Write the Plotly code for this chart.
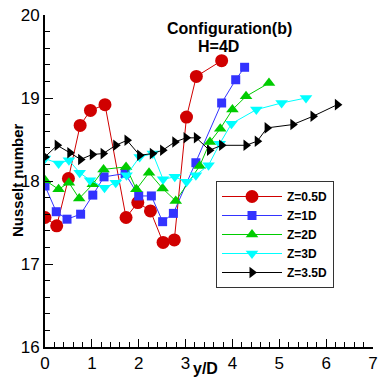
import plotly.graph_objects as go

# ---- data ----
red_x = [0, 0.25, 0.5, 0.75, 0.97, 1.28, 1.73, 1.98, 2.25, 2.52, 2.76, 3.02, 3.23, 3.77]
red_y = [17.56, 17.46, 18.03, 18.67, 18.85, 18.92, 17.56, 17.74, 17.64, 17.26, 17.29, 18.77, 19.26, 19.45]

blue_x = [0, 0.24, 0.47, 0.76, 1.02, 1.26, 1.71, 2.0, 2.27, 2.51, 2.74, 3.22, 3.77, 4.07, 4.26]
blue_y = [17.94, 17.63, 17.54, 17.60, 17.83, 18.05, 18.09, 17.82, 17.82, 17.51, 17.61, 18.22, 18.94, 19.22, 19.37]

green_x = [0, 0.29, 0.51, 0.73, 1.02, 1.25, 1.73, 1.95, 2.22, 2.51, 2.79, 3.30, 3.52, 3.74, 4.0, 4.29, 4.78]
green_y = [18.01, 17.90, 17.98, 17.79, 17.96, 18.14, 18.17, 17.90, 18.10, 17.91, 17.76, 18.18, 18.47, 18.63, 18.86, 19.02, 19.18]

cyan_x = [0, 0.29, 0.51, 0.74, 0.96, 1.27, 1.51, 1.74, 2.02, 2.30, 2.52, 2.77, 3.02, 3.22, 3.49, 3.73, 3.98, 4.51, 5.05, 5.57]
cyan_y = [18.27, 18.21, 18.25, 18.10, 18.01, 17.92, 17.98, 18.07, 18.29, 18.33, 18.02, 18.05, 17.99, 18.07, 18.19, 18.45, 18.69, 18.86, 18.94, 19.00]

black_x = [0, 0.26, 0.53, 0.76, 1.01, 1.24, 1.51, 1.75, 2.02, 2.29, 2.51, 2.77, 3.01, 3.23, 3.51, 3.77, 4.29, 4.53, 4.74, 5.29, 5.72, 6.24]
black_y = [18.29, 18.43, 18.34, 18.26, 18.32, 18.33, 18.43, 18.49, 18.31, 18.33, 18.37, 18.47, 18.52, 18.52, 18.37, 18.43, 18.43, 18.48, 18.64, 18.68, 18.78, 18.92]

series_names = ["Z=0.5D", "Z=1D", "Z=2D", "Z=3D", "Z=3.5D"]
x_range = [0, 7]
y_range = [16, 20]

title_line1 = "Configuration(b)"
title_line2 = "H=4D"
x_title = "y/D"
y_title = "Nusselt number"

FONT = "Liberation Sans, Arial, sans-serif"

# plot area in pixels: left 45, right 373, top 15, bottom 347
PL, PR, PT, PB = 45, 373, 15, 347
W, H = 383, 378


def px_x(px):
    return (px - PL) / (PR - PL)


def px_y(py):
    return (PB - py) / (PB - PT)


styles = [
    dict(color="#d00000", symbol="circle", size=13),
    dict(color="#3333ff", symbol="square", size=9),
    dict(color="#00cc00", symbol="triangle-up", size=11),
    dict(color="#00ffff", symbol="triangle-down", size=11),
    dict(color="#000000", symbol="triangle-right", size=10),
]

data = [(red_x, red_y), (blue_x, blue_y), (green_x, green_y), (cyan_x, cyan_y), (black_x, black_y)]

fig = go.Figure()
for (xs, ys), name, st in zip(data, series_names, styles):
    fig.add_trace(go.Scatter(
        x=xs, y=ys, name=name, mode="lines+markers",
        line=dict(color=st["color"], width=1),
        marker=dict(color=st["color"], symbol=st["symbol"], size=st["size"], line=dict(width=0)),
    ))

axis_common = dict(
    showgrid=False, zeroline=False, showline=True, linecolor="black", linewidth=2,
    ticks="inside", ticklen=8, tickwidth=1, tickcolor="black",
    tickfont=dict(family=FONT, size=17, color="black"),
    mirror=False, ticklabeloverflow="allow", tickmode="linear", tick0=0, dtick=1,
    automargin=False,
    minor=dict(ticks="inside", ticklen=5, tickwidth=1, tickcolor="black", dtick=0.2, showgrid=False),
)

fig.update_xaxes(range=x_range, **axis_common)
fig.update_yaxes(range=y_range, **axis_common)

# axis titles
fig.add_annotation(text="<b>%s</b>" % x_title, x=px_x(205), y=px_y(378),
                   xref="paper", yref="paper", xanchor="center", yanchor="bottom", borderpad=0,
                   showarrow=False, font=dict(family=FONT, size=16, color="black"))
fig.add_annotation(text="<b>%s</b>" % y_title, x=px_x(17), y=px_y(180), textangle=-90,
                   xref="paper", yref="paper", xanchor="center", yanchor="middle",
                   showarrow=False, font=dict(family=FONT, size=15, color="black"))

# chart title, two lines
fig.add_annotation(text="<b>%s</b>" % title_line1, x=px_x(229), y=px_y(28),
                   xref="paper", yref="paper", xanchor="center", yanchor="middle",
                   showarrow=False, font=dict(family=FONT, size=16, color="black"))
fig.add_annotation(text="<b>%s</b>" % title_line2, x=px_x(218), y=px_y(47),
                   xref="paper", yref="paper", xanchor="center", yanchor="middle",
                   showarrow=False, font=dict(family=FONT, size=16, color="black"))

fig.update_layout(
    template="none",
    width=W, height=H,
    margin=dict(l=PL, r=W - PR, t=PT, b=H - PB, autoexpand=False),
    paper_bgcolor="white", plot_bgcolor="white",
    showlegend=True,
    legend=dict(
        x=px_x(216), y=px_y(181), xanchor="left", yanchor="top",
        bordercolor="#333333", borderwidth=1, bgcolor="white",
        font=dict(family=FONT, size=12, color="black", weight="bold"),
        itemwidth=60, tracegroupgap=0,
    ),
)

fig.write_html("out.html", config={"displayModeBar": False},
               post_script="document.body.style.margin='0';document.body.style.overflow='hidden';")
